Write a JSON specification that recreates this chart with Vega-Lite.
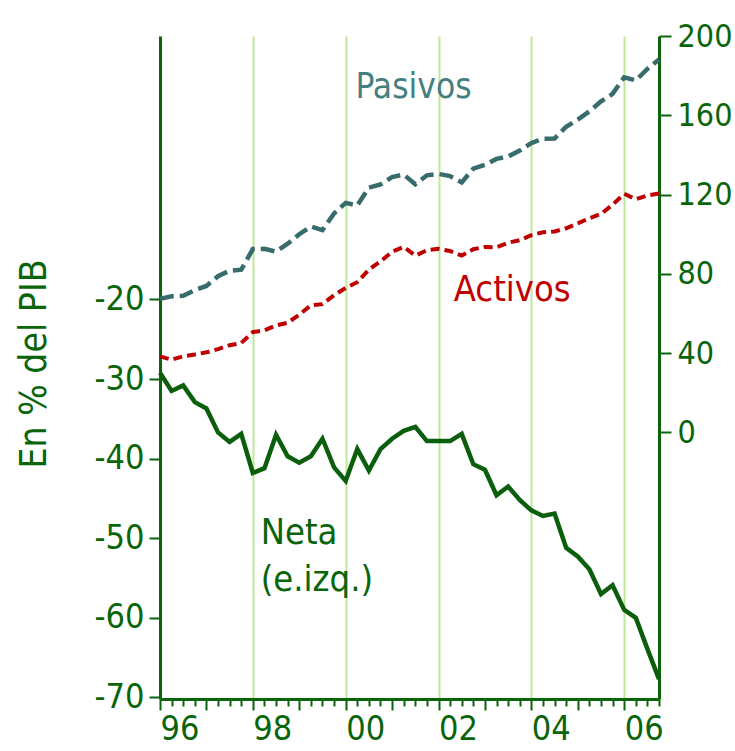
{
  "$schema": "https://vega.github.io/schema/vega-lite/v6.json",
  "width": 499,
  "height": 663,
  "autosize": "none",
  "padding": {"left": 160, "top": 36, "right": 76, "bottom": 52},
  "background": "white",
  "config": {"view": {"stroke": null}, "font": "DejaVu Sans Condensed, Roboto"},
  "datasets": {
    "series": [
      {"t": 1996.0, "neta": -29.2, "activos": 38.4, "pasivos": 67.4},
      {"t": 1996.25, "neta": -31.5, "activos": 36.7, "pasivos": 68.7},
      {"t": 1996.5, "neta": -30.8, "activos": 38.4, "pasivos": 68.9},
      {"t": 1996.75, "neta": -32.9, "activos": 39.3, "pasivos": 71.8},
      {"t": 1997.0, "neta": -33.7, "activos": 40.4, "pasivos": 73.9},
      {"t": 1997.25, "neta": -36.7, "activos": 42.0, "pasivos": 78.8},
      {"t": 1997.5, "neta": -37.9, "activos": 44.0, "pasivos": 81.6},
      {"t": 1997.75, "neta": -36.9, "activos": 45.1, "pasivos": 82.1},
      {"t": 1998.0, "neta": -41.8, "activos": 50.6, "pasivos": 92.5},
      {"t": 1998.25, "neta": -41.2, "activos": 51.5, "pasivos": 92.6},
      {"t": 1998.5, "neta": -37.0, "activos": 54.0, "pasivos": 91.2},
      {"t": 1998.75, "neta": -39.7, "activos": 55.3, "pasivos": 95.2},
      {"t": 1999.0, "neta": -40.5, "activos": 59.4, "pasivos": 100.0},
      {"t": 1999.25, "neta": -39.7, "activos": 64.1, "pasivos": 103.9},
      {"t": 1999.5, "neta": -37.5, "activos": 64.7, "pasivos": 102.1},
      {"t": 1999.75, "neta": -41.1, "activos": 69.2, "pasivos": 110.5},
      {"t": 2000.0, "neta": -42.8, "activos": 72.9, "pasivos": 115.8},
      {"t": 2000.25, "neta": -38.8, "activos": 75.8, "pasivos": 114.5},
      {"t": 2000.5, "neta": -41.5, "activos": 82.1, "pasivos": 123.5},
      {"t": 2000.75, "neta": -38.8, "activos": 86.3, "pasivos": 125.1},
      {"t": 2001.0, "neta": -37.5, "activos": 91.1, "pasivos": 128.8},
      {"t": 2001.25, "neta": -36.5, "activos": 93.6, "pasivos": 130.1},
      {"t": 2001.5, "neta": -36.0, "activos": 89.2, "pasivos": 125.2},
      {"t": 2001.75, "neta": -37.8, "activos": 91.9, "pasivos": 129.7},
      {"t": 2002.0, "neta": -37.8, "activos": 92.6, "pasivos": 130.4},
      {"t": 2002.25, "neta": -37.8, "activos": 91.5, "pasivos": 129.3},
      {"t": 2002.5, "neta": -36.9, "activos": 89.2, "pasivos": 126.1},
      {"t": 2002.75, "neta": -40.7, "activos": 92.4, "pasivos": 133.1},
      {"t": 2003.0, "neta": -41.4, "activos": 93.6, "pasivos": 135.0},
      {"t": 2003.25, "neta": -44.6, "activos": 93.4, "pasivos": 138.0},
      {"t": 2003.5, "neta": -43.5, "activos": 95.7, "pasivos": 139.2},
      {"t": 2003.75, "neta": -45.2, "activos": 97.0, "pasivos": 142.2},
      {"t": 2004.0, "neta": -46.5, "activos": 99.5, "pasivos": 146.0},
      {"t": 2004.25, "neta": -47.2, "activos": 101.0, "pasivos": 148.2},
      {"t": 2004.5, "neta": -46.9, "activos": 101.4, "pasivos": 148.3},
      {"t": 2004.75, "neta": -51.2, "activos": 103.0, "pasivos": 154.2},
      {"t": 2005.0, "neta": -52.3, "activos": 105.5, "pasivos": 157.8},
      {"t": 2005.25, "neta": -53.9, "activos": 108.1, "pasivos": 162.0},
      {"t": 2005.5, "neta": -57.0, "activos": 110.2, "pasivos": 167.0},
      {"t": 2005.75, "neta": -55.9, "activos": 114.9, "pasivos": 170.8},
      {"t": 2006.0, "neta": -59.0, "activos": 120.4, "pasivos": 179.2},
      {"t": 2006.25, "neta": -60.0, "activos": 117.6, "pasivos": 177.6},
      {"t": 2006.5, "neta": -63.9, "activos": 119.5, "pasivos": 183.4},
      {"t": 2006.75, "neta": -67.7, "activos": 120.5, "pasivos": 188.2}
    ]
  },
  "encoding": {
    "x": {
      "field": "t",
      "type": "quantitative",
      "scale": {"domain": [1996, 2006.75], "nice": false, "zero": false},
      "axis": {
        "title": null,
        "values": [1996, 1996.25, 1996.5, 1996.75, 1997, 1997.25, 1997.5, 1997.75, 1998, 1998.25, 1998.5, 1998.75, 1999, 1999.25, 1999.5, 1999.75, 2000, 2000.25, 2000.5, 2000.75, 2001, 2001.25, 2001.5, 2001.75, 2002, 2002.25, 2002.5, 2002.75, 2003, 2003.25, 2003.5, 2003.75, 2004, 2004.25, 2004.5, 2004.75, 2005, 2005.25, 2005.5, 2005.75, 2006, 2006.25, 2006.5, 2006.75],
        "labelExpr": "datum.value % 2 === 0 ? substring(toString(datum.value), 2, 4) : ''",
        "labelAlign": "left",
        "labelBaseline": "top",
        "labelFlush": false,
        "labelOverlap": false,
        "labelFont": "DejaVu Sans Condensed, Roboto",
        "labelFontSize": 34,
        "labelColor": "#0a650a",
        "labelPadding": 2,
        "tickSize": {"condition": {"test": "datum.value % 1 === 0", "value": 11}, "value": 7},
        "tickColor": "#0a650a",
        "tickWidth": 2,
        "domainColor": "#0a650a",
        "domainWidth": 3,
        "grid": true,
        "gridColor": "#bfe79a",
        "gridWidth": 2,
        "gridOpacity": {"condition": {"test": "datum.value % 2 === 0 && datum.value > 1996", "value": 1}, "value": 0}
      }
    }
  },
  "layer": [
    {
      "layer": [
        {
          "data": {"name": "series"},
          "mark": {"type": "line", "stroke": "#0b5e0b", "strokeWidth": 4.5, "strokeJoin": "miter"},
          "encoding": {
            "y": {
              "field": "neta",
              "type": "quantitative",
              "scale": {"domain": [-70.2, 13.1], "nice": false, "zero": false},
              "axis": {
                "orient": "left",
                "values": [-20, -30, -40, -50, -60, -70],
                "labelExpr": "toString(datum.value)",
                "grid": false,
                "title": "En % del PIB",
                "titleFont": "DejaVu Sans Condensed, Roboto",
                "titleFontSize": 37,
                "titleFontWeight": "normal",
                "titleColor": "#0a650a",
                "titleAngle": -90,
                "titleAlign": "center",
                "titleBaseline": "alphabetic",
                "titleX": -115,
                "titleY": 327.5,
                "labelFont": "DejaVu Sans Condensed, Roboto",
                "labelFontSize": 34,
                "labelColor": "#0a650a",
                "labelPadding": 5,
                "tickSize": 11,
                "tickColor": "#0a650a",
                "tickWidth": 2,
                "domainColor": "#0a650a",
                "domainWidth": 3
              }
            }
          }
        },
        {
          "data": {"values": [{"t": 1998.17, "y": -50.7, "label": "Neta\n(e.izq.)"}]},
          "mark": {"type": "text", "align": "left", "baseline": "alphabetic", "font": "DejaVu Sans Condensed, Roboto", "fontSize": 36, "color": "#0a650a", "lineBreak": "\n", "lineHeight": 47},
          "encoding": {
            "y": {"field": "y", "type": "quantitative", "scale": {"domain": [-70.2, 13.1], "nice": false, "zero": false}},
            "text": {"field": "label"}
          }
        }
      ]
    },
    {
      "layer": [
        {
          "data": {"name": "series"},
          "mark": {"type": "line", "stroke": "#386b6b", "strokeWidth": 4.5, "strokeDash": [14, 6]},
          "encoding": {
            "y": {
              "field": "pasivos",
              "type": "quantitative",
              "scale": {"domain": [-134.5, 200], "nice": false, "zero": false},
              "axis": {
                "orient": "right",
                "values": [0, 40, 80, 120, 160, 200],
                "labelExpr": "toString(datum.value)",
                "grid": false,
                "title": null,
                "labelFont": "DejaVu Sans Condensed, Roboto",
                "labelFontSize": 32,
                "labelColor": "#0a650a",
                "labelPadding": 6,
                "tickSize": 12,
                "tickColor": "#0a650a",
                "tickWidth": 2,
                "domainColor": "#0a650a",
                "domainWidth": 3
              }
            }
          }
        },
        {
          "data": {"name": "series"},
          "mark": {"type": "line", "stroke": "#c00000", "strokeWidth": 4, "strokeDash": [9, 5]},
          "encoding": {
            "y": {"field": "activos", "type": "quantitative", "scale": {"domain": [-134.5, 200], "nice": false, "zero": false}}
          }
        },
        {
          "data": {"values": [{"t": 2000.21, "y": 168.9, "label": "Pasivos"}]},
          "mark": {"type": "text", "align": "left", "baseline": "alphabetic", "font": "DejaVu Sans Condensed, Roboto", "fontSize": 35, "color": "#467f7f"},
          "encoding": {
            "y": {"field": "y", "type": "quantitative", "scale": {"domain": [-134.5, 200], "nice": false, "zero": false}},
            "text": {"field": "label"}
          }
        },
        {
          "data": {"values": [{"t": 2002.33, "y": 66.2, "label": "Activos"}]},
          "mark": {"type": "text", "align": "left", "baseline": "alphabetic", "font": "DejaVu Sans Condensed, Roboto", "fontSize": 36, "color": "#c00000"},
          "encoding": {
            "y": {"field": "y", "type": "quantitative", "scale": {"domain": [-134.5, 200], "nice": false, "zero": false}},
            "text": {"field": "label"}
          }
        }
      ]
    }
  ],
  "resolve": {"scale": {"y": "independent"}}
}
